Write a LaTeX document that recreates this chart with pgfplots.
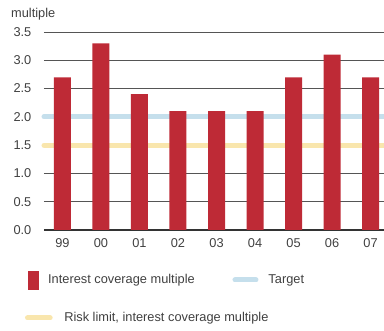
\documentclass[border=0pt]{standalone}
\usepackage{fontspec}
\setmainfont{Liberation Sans}
\usepackage{pgfplots}
\pgfplotsset{compat=1.18}

\definecolor{barred}{HTML}{BE2A36}
\definecolor{targetblue}{HTML}{C5DFEC}
\definecolor{riskyellow}{HTML}{F9E6AD}
\definecolor{gridgray}{HTML}{555555}
\definecolor{axisdark}{HTML}{333333}
\definecolor{txtgray}{HTML}{404040}

\begin{document}
\begin{tikzpicture}[font=\fontsize{12.8}{15}\selectfont,
  every node/.append style={text=txtgray}]
\useasboundingbox (0pt,0pt) rectangle (384pt,331pt);

\begin{axis}[
  at={(44pt,101pt)}, anchor=south west,
  scale only axis, width=340pt, height=198pt,
  xmin=-0.48, xmax=8.35, ymin=0, ymax=3.5,
  clip=false,
  xtick={0,...,8},
  xticklabels={99,00,01,02,03,04,05,06,07},
  ytick={0,0.5,...,3.5},
  /pgf/number format/assume math mode=true,
  /pgf/number format/fixed,
  /pgf/number format/fixed zerofill,
  /pgf/number format/precision=1,
  yticklabel style={anchor=east, inner sep=0pt, xshift=-12.5pt},
  xticklabel style={anchor=north, inner sep=0pt, yshift=-8pt},
  major tick length=0pt,
  tick style={draw=none},
  axis x line*=bottom,
  axis y line*=left,
  y axis line style={draw=none},
  x axis line style={draw=axisdark, line width=1.4pt},
  ymajorgrids,
  major grid style={gridgray, line width=0.9pt},
  legend columns=2,
  legend cell align=left,
  legend style={at={(-0.0462,-0.2525)}, anchor=west, draw=none, fill=none,
    inner sep=0pt, outer sep=0pt, nodes={inner sep=0pt},
    /tikz/column sep=0pt,
    /tikz/every odd column/.append style={column sep=10pt}},
]
% target and risk limit lines sit behind the bars
\addplot[riskyellow, line width=5pt, line cap=round, forget plot]
  coordinates {(-0.48,1.5) (8.35,1.5)};
\addplot[targetblue, line width=5pt, line cap=round, forget plot]
  coordinates {(-0.48,2.0) (8.35,2.0)};

% interest coverage multiple, 1999-2007
\addplot[ybar, bar width=17pt, fill=barred, draw=none, forget plot]
  coordinates {(0,2.7) (1,3.3) (2,2.4) (3,2.1) (4,2.1) (5,2.1) (6,2.7) (7,3.1) (8,2.7)};

\addlegendimage{legend image code/.code={\fill[barred] (0pt,-9pt) rectangle (9.5pt,9pt);}}
\addlegendentry{\makebox[184.3pt][l]{Interest coverage multiple}}
\addlegendimage{legend image code/.code={\path[draw=none, fill=none] (0pt,-2.5pt) rectangle (26pt,2.5pt);
  \draw[targetblue, line width=5pt, line cap=round] (2.5pt,0pt) -- (23.5pt,0pt);}}
\addlegendentry{Target}
\end{axis}

% second legend row on its own
\begin{axis}[
  at={(44pt,101pt)}, anchor=south west,
  scale only axis, width=340pt, height=198pt,
  hide axis, xmin=0, xmax=1, ymin=0, ymax=1,
  legend cell align=left,
  legend style={at={(-0.0559,-0.4444)}, anchor=west, draw=none, fill=none,
    inner sep=0pt, outer sep=0pt, nodes={inner sep=0pt},
    /tikz/column sep=0pt,
    /tikz/every odd column/.append style={column sep=11.6pt}},
]
\addlegendimage{legend image code/.code={\path[draw=none, fill=none] (0pt,-2.5pt) rectangle (27.7pt,2.5pt);
  \draw[riskyellow, line width=5pt, line cap=round] (2.5pt,0pt) -- (25.2pt,0pt);}}
\addlegendentry{Risk limit, interest coverage multiple}
\end{axis}

\node[anchor=base west, inner sep=0pt] at (11pt,313.5pt) {multiple};
\end{tikzpicture}
\end{document}
